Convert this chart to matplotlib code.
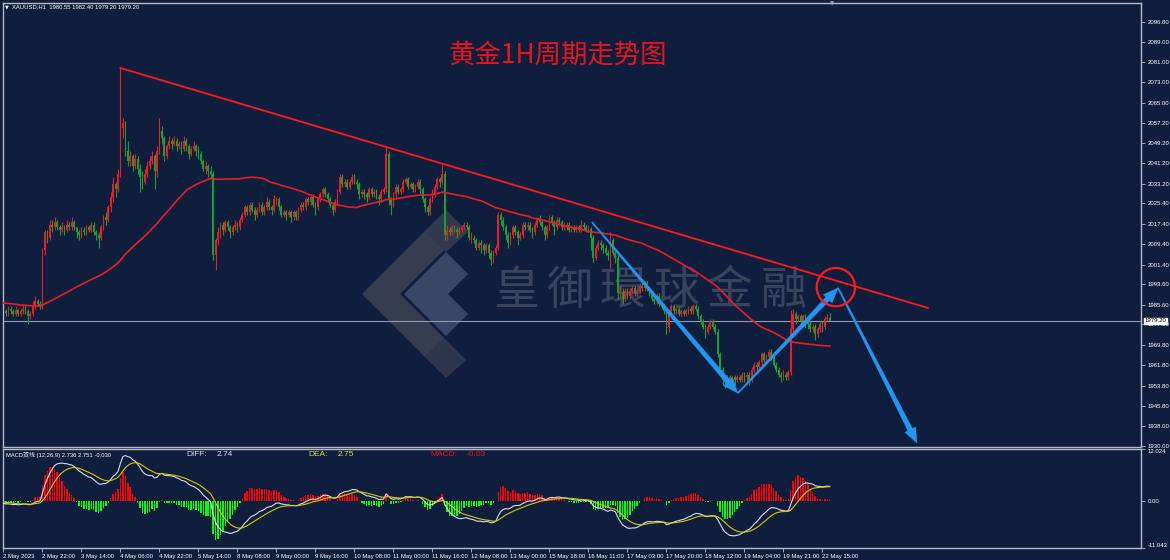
import numpy as np
import pandas as pd
import matplotlib
matplotlib.use('Agg')
import matplotlib.pyplot as plt
from matplotlib.patches import Polygon
import matplotlib.transforms as mtransforms

# ---- data: XAUUSD H1 ----
# closes of the hours before the first visible bar (only used to warm up the MA)
prior_closes = [1990, 1991, 1989, 1988, 1990, 1992, 1991, 1989, 1987, 1988,
                1986, 1985, 1987, 1989, 1988, 1986, 1984, 1983, 1985, 1987,
                1988, 1986, 1985, 1984, 1986, 1988, 1987, 1985, 1984, 1982,
                1981, 1983, 1985, 1986, 1988, 1989, 1987, 1986, 1985, 1987,
                1988, 1986, 1984, 1985, 1987, 1988, 1989, 1987, 1986, 1985,
                1984, 1986, 1987, 1988, 1986, 1985, 1984, 1985, 1984, 1983.5]

closes = [
    1983, 1982.5, 1984, 1983, 1982, 1983.5, 1982, 1983, 1984, 1983, 1981, 1982, 1985, 1987, 1986, 1985,
    2007, 2014, 2012, 2017, 2016, 2018, 2016, 2015, 2016, 2015, 2017, 2016, 2018, 2016, 2014, 2013,
    2015, 2014, 2016, 2015, 2017, 2014, 2013, 2012, 2016, 2020, 2019, 2024, 2028, 2033, 2031, 2037,
    2055, 2057, 2046, 2042, 2044, 2040, 2043, 2039, 2036, 2034, 2037, 2040, 2042, 2044, 2038, 2046,
    2054, 2051, 2044, 2048, 2050, 2049, 2050, 2048, 2049, 2047, 2050, 2048, 2045, 2047, 2048, 2046,
    2045, 2042, 2039, 2040, 2038, 2037, 2005, 2011, 2014, 2017, 2015, 2018, 2016, 2014, 2016, 2017,
    2016, 2019, 2021, 2024, 2022, 2025, 2023, 2021, 2023, 2025, 2022, 2024, 2026, 2024, 2023, 2027,
    2027, 2024, 2021, 2022, 2021, 2022, 2020, 2022, 2020, 2023, 2025, 2024, 2027, 2026, 2028, 2025,
    2024, 2027, 2029, 2031, 2029, 2027, 2025, 2023, 2026, 2030, 2036, 2033, 2034, 2032, 2034, 2036,
    2034, 2033, 2029, 2030, 2029, 2028, 2031, 2029, 2030, 2028, 2027, 2030, 2031, 2045, 2027, 2025,
    2029, 2032, 2030, 2031, 2034, 2035, 2032, 2033, 2031, 2032, 2034, 2031, 2027, 2024, 2022, 2027,
    2029, 2032, 2035, 2034, 2037, 2013, 2015, 2014, 2016, 2015, 2014, 2015, 2016, 2017, 2016, 2012,
    2012, 2011, 2008, 2010, 2009, 2007, 2009, 2006, 2003, 2006, 2008, 2021, 2019, 2016, 2013, 2010,
    2013, 2016, 2014, 2012, 2013, 2017, 2016, 2017, 2015, 2014, 2017, 2019, 2018, 2016, 2013, 2016,
    2020, 2018, 2016, 2019, 2018, 2016, 2016.5, 2017, 2015, 2016, 2015, 2016, 2015, 2017, 2016, 2015,
    2015.5, 2012, 2004, 2008, 2010, 2009, 2008, 2006, 2005, 2011, 2006, 2004, 1990, 1990.5, 1988, 1991,
    1989, 1991, 1992, 1990, 1991, 1993, 1992, 1994, 1992, 1990, 1988, 1987, 1989, 1986, 1985, 1983,
    1977, 1983, 1985, 1983, 1984, 1982, 1983, 1982, 1983, 1984, 1983, 1985, 1984, 1981, 1979, 1977,
    1975, 1977, 1979, 1977, 1975, 1966, 1960, 1956, 1955, 1957, 1955, 1957, 1956, 1957, 1956, 1958,
    1957, 1958, 1956, 1960, 1962, 1961, 1963, 1966, 1964, 1965, 1967, 1965, 1962, 1960, 1958, 1957,
    1958, 1957, 1959, 1976, 1982, 1980, 1981, 1979, 1981, 1979, 1978, 1976, 1977, 1974, 1976, 1978,
    1977, 1980, 1980.55, 1979.2]

highs = [
    1985, 1984, 1985, 1985, 1984, 1985, 1984, 1984, 1986, 1985, 1984, 1983, 1987, 1989, 1988, 1987,
    2008, 2015, 2015, 2019, 2019, 2020, 2019, 2017, 2018, 2017, 2019, 2018, 2020, 2019, 2016, 2015,
    2016, 2016, 2017, 2017, 2018, 2018, 2015, 2014, 2017, 2021, 2022, 2025, 2030, 2036, 2034, 2039,
    2078.7, 2059, 2058, 2050, 2046, 2045, 2045, 2044, 2041, 2038, 2039, 2042, 2044, 2046, 2045, 2048,
    2059, 2056, 2052, 2049, 2052, 2051, 2052, 2051, 2050, 2050, 2052, 2051, 2049, 2048, 2050, 2049,
    2048, 2046, 2043, 2042, 2041, 2040, 2038, 2012, 2016, 2018, 2018, 2019, 2019, 2017, 2017, 2019,
    2018, 2020, 2022, 2025, 2025, 2026, 2026, 2024, 2024, 2026, 2026, 2025, 2028, 2027, 2025, 2028.7,
    2028, 2028, 2025, 2023, 2023, 2023, 2023, 2023, 2023, 2024, 2026, 2026, 2028, 2028, 2029, 2029,
    2026, 2028, 2030, 2032, 2032, 2030, 2028, 2026, 2027, 2031, 2037, 2037, 2035, 2035, 2035, 2037,
    2037, 2035, 2034, 2031, 2031, 2030, 2032, 2032, 2031, 2031, 2029, 2031, 2032, 2047.6, 2046, 2028,
    2030, 2033, 2033, 2032, 2035, 2036, 2036, 2034, 2034, 2033, 2035, 2035, 2032, 2028, 2025, 2028,
    2031, 2033, 2036, 2036, 2040.5, 2038, 2017, 2016, 2017, 2017, 2016, 2016, 2017, 2018, 2018, 2017,
    2014, 2013, 2012, 2011, 2011, 2010, 2010, 2010, 2007, 2007, 2009, 2022, 2022, 2020, 2017, 2014,
    2014, 2017, 2017, 2015, 2014, 2018, 2018, 2018, 2018, 2016, 2018, 2020, 2021, 2019, 2017, 2017,
    2021, 2021, 2019, 2020, 2020, 2019, 2018, 2018, 2018, 2017, 2017, 2017, 2017, 2019, 2018, 2017,
    2017, 2016, 2013, 2009, 2011, 2011, 2010, 2009, 2007, 2014, 2012, 2007, 2005, 1993, 1992, 1992,
    1992, 1992, 1993, 1993, 1992, 1994, 1994, 1995, 1995, 1993, 1991, 1989, 1990, 1990, 1987, 1986,
    1984, 1984, 1986, 1986, 1985, 1985, 1984, 1984, 1984, 1985, 1985, 1986, 1986, 1985, 1982, 1980,
    1978, 1978, 1980, 1980, 1978, 1976, 1967, 1961, 1958, 1958, 1958, 1958, 1958, 1958, 1958, 1959,
    1959, 1959, 1959, 1961, 1963, 1963, 1964, 1967, 1967, 1966, 1968, 1968, 1966, 1963, 1961, 1959,
    1960, 1959, 1960, 1983.5, 1984, 1983, 1982, 1982, 1982, 1982, 1980, 1979, 1978, 1978, 1977, 1979,
    1979, 1981, 1982, 1982.4]

lows = [
    1982, 1981, 1981, 1982, 1981, 1981, 1981, 1981, 1982, 1982, 1978, 1980, 1981, 1984, 1985, 1984,
    1984, 2005, 2010, 2011, 2014, 2015, 2015, 2013, 2014, 2013, 2014, 2015, 2015, 2015, 2012, 2011,
    2012, 2013, 2013, 2014, 2014, 2013, 2011, 2008, 2011, 2015, 2017, 2018, 2022, 2026, 2028, 2030,
    2036, 2051, 2044, 2040, 2040, 2038, 2039, 2037, 2030, 2031, 2033, 2036, 2039, 2041, 2031, 2036,
    2045, 2049, 2042, 2043, 2047, 2047, 2048, 2046, 2047, 2045, 2046, 2046, 2043, 2044, 2046, 2044,
    2043, 2041, 2038, 2037, 2036, 2035, 2003, 1999.2, 2009, 2012, 2013, 2014, 2015, 2012, 2013, 2015,
    2014, 2015, 2018, 2020, 2021, 2021, 2022, 2019, 2020, 2022, 2021, 2021, 2023, 2023, 2021, 2022,
    2025, 2023, 2020, 2020, 2019, 2020, 2018, 2019, 2019, 2019, 2022, 2023, 2023, 2025, 2025, 2024,
    2021, 2023, 2026, 2028, 2028, 2026, 2024, 2021, 2022, 2025, 2029, 2032, 2032, 2031, 2031, 2033,
    2033, 2031, 2027, 2028, 2027, 2026, 2027, 2028, 2028, 2027, 2025, 2026, 2029, 2030, 2025, 2021,
    2024, 2027, 2029, 2029, 2030, 2033, 2031, 2031, 2030, 2030, 2031, 2029, 2026, 2022, 2021, 2021,
    2026, 2028, 2031, 2032, 2033, 2011, 2011, 2013, 2013, 2014, 2012, 2013, 2014, 2015, 2015, 2011,
    2010, 2010, 2007, 2007, 2006, 2005, 2006, 2004, 2001.2, 2002, 2005, 2007, 2017, 2015, 2011, 2008,
    2009, 2012, 2013, 2009, 2011, 2012, 2015, 2015, 2014, 2012, 2013, 2016, 2017, 2015, 2011, 2012,
    2015, 2017, 2013, 2015, 2017, 2015, 2015, 2015, 2014, 2014, 2014, 2014, 2014, 2014, 2015, 2014,
    2014, 2007, 2002.4, 2003, 2007, 2007, 2006, 2005, 2003, 2000, 2005, 2002, 1988, 1988, 1986, 1987,
    1988, 1988, 1990, 1989, 1989, 1990, 1991, 1991, 1991, 1989, 1987, 1986, 1986, 1985, 1984, 1982,
    1974, 1975, 1982, 1982, 1982, 1981, 1981, 1981, 1981, 1982, 1982, 1982, 1983, 1980, 1978, 1976,
    1972.5, 1974, 1976, 1976, 1974, 1965, 1959, 1954, 1953, 1954, 1953, 1954, 1954, 1955, 1955, 1955,
    1955, 1955, 1954, 1955, 1959, 1959, 1960, 1962, 1963, 1963, 1964, 1964, 1961, 1959, 1957, 1955,
    1956, 1956, 1956, 1958, 1975, 1978, 1979, 1977, 1978, 1977, 1976, 1975, 1975, 1971.7, 1973, 1975,
    1975, 1976, 1979, 1979.2]

first_open = 1983.5

price_ticks = [2096.80, 2089.00, 2081.00, 2073.00, 2065.00, 2057.20, 2049.20, 2041.20,
               2033.20, 2025.40, 2017.40, 2009.40, 2001.40, 1993.60, 1985.60, 1977.80,
               1969.80, 1961.80, 1953.80, 1945.80, 1938.00, 1930.00]
time_labels = ['2 May 2023', '2 May 22:00', '3 May 14:00', '4 May 06:00', '4 May 22:00',
               '5 May 14:00', '8 May 08:00', '9 May 00:00', '9 May 16:00', '10 May 08:00',
               '11 May 00:00', '11 May 16:00', '12 May 08:00', '13 May 00:00', '15 May 18:00',
               '16 May 11:00', '17 May 03:00', '17 May 20:00', '18 May 12:00', '19 May 04:00',
               '19 May 21:00', '22 May 15:00']
label_step = 16
ma_period = 60
last_price = 1979.20
macd_scale = (12.024, -11.043)
# indicator read-out shown on the chart
macd_header = 'MACD双线 (12,26,9) 2.736 2.751 -0.030'
diff_txt, dea_txt, macd_txt = '2.74', '2.75', '-0.03'

# analyst drawings (bar index, price)
trend_pts = ([48, 379.3], [2078.7, 1984.3])
arrow_pts = [((241.4, 2018.1), (301.3, 1950.8)),
             ((301.3, 1950.8), (342.4, 1992.2)),
             ((342.4, 1992.2), (374.8, 1931.2))]
circle_pt = (341.5, 1992.5)

# ---- derived series ----
closes = np.array(closes, float)
highs = np.array(highs, float)
lows = np.array(lows, float)
opens = np.concatenate([[first_open], closes[:-1]])
highs = np.maximum(highs, np.maximum(opens, closes))
lows = np.minimum(lows, np.minimum(opens, closes))
n = len(closes)
x = np.arange(n)

allc = pd.Series(list(prior_closes) + list(closes))
ma = allc.rolling(ma_period).mean().values[len(prior_closes):]
ema12 = allc.ewm(span=12, adjust=False).mean()
ema26 = allc.ewm(span=26, adjust=False).mean()
diff = (ema12 - ema26)
dea = diff.ewm(span=9, adjust=False).mean()
hist = (2 * (diff - dea)).values[len(prior_closes):]
diff = diff.values[len(prior_closes):]
dea = dea.values[len(prior_closes):]

# ---- style ----
W, H = 1170, 560
BG = '#101e3e'
FRAME = '#b8bcc8'
UP = '#ec1c24'
DOWN = '#16a034'
RED = '#ff1a1a'
BLUE = '#2196f3'
TXT = 'Liberation Sans'
CJK = ['Noto Sans CJK SC', 'DejaVu Sans']

fig = plt.figure(figsize=(W / 100, H / 100), dpi=100, facecolor=BG)
ax = fig.add_axes([3 / W, 1 - 447 / H, 1138 / W, 444 / H], facecolor=BG)
ax2 = fig.add_axes([3 / W, 1 - 548 / H, 1138 / W, 99 / H], facecolor=BG)

xlim = (-0.2, 466.7)
for a in (ax, ax2):
    a.set_xlim(*xlim)
    for s in a.spines.values():
        s.set_color(FRAME)
        s.set_linewidth(1.0)
ax.set_ylim(1929.61, 2104.27)
ax2.set_ylim(macd_scale[1], macd_scale[0])


def axpos(px, py):
    # pixel position -> main-axes fraction
    return (px - 3) / 1138, (447 - py) / 444


# watermark logo + text (behind candles)
logo = [
    ([(362, 294), (425, 231), (444, 250), (400, 294), (444, 338), (425, 357)], '#5c5c64', 0.50),
    ([(404, 294), (446, 252), (468, 274), (448, 294), (468, 314), (446, 336)], '#7885a6', 0.40),
    ([(425, 231), (446, 210), (468, 232), (446, 252)], '#5c5c64', 0.45),
    ([(425, 357), (444, 338), (466, 360), (446, 378)], '#5c5c64', 0.40),
]
for pts, col, al in logo:
    ax.add_patch(Polygon([axpos(*p) for p in pts], closed=True, transform=ax.transAxes,
                         facecolor=col, edgecolor='none', alpha=al, zorder=0.5))
for k, ch in enumerate('皇御環球金融'):
    px, py = axpos(516 + 53.5 * k, 291)
    ax.text(px, py, ch, transform=ax.transAxes, ha='center', va='center', fontsize=33,
            color='#9a9aa0', alpha=0.30, family=['Noto Sans CJK TC', 'DejaVu Sans'], zorder=0.5)

# candles
cols = np.where(closes >= opens, UP, DOWN)
ax.vlines(x, lows, highs, colors=cols, lw=0.8, zorder=2)
body = np.maximum(np.abs(closes - opens), 0.35)
ax.bar(x, body, bottom=np.minimum(opens, closes), width=0.7, color=cols, lw=0, zorder=2)

ax.plot(x, ma, color=UP, lw=1.2, zorder=3)
ax.plot(trend_pts[0], trend_pts[1], color=RED, lw=1.3, zorder=3)
ax.axhline(last_price, color='#8f99b0', lw=0.8, zorder=1.5)

# tapered arrows, built in pixel space then mapped back to data


def taper_arrow(p0, p1, w0=1.2, w1=5.0, hw=12.0, hl=15.0):
    t = ax.transData
    a0 = np.array(t.transform(p0))
    a1 = np.array(t.transform(p1))
    u = (a1 - a0) / np.hypot(*(a1 - a0))
    nv = np.array([-u[1], u[0]])
    b = a1 - u * hl
    pts = [a0 + nv * w0 / 2, b + nv * w1 / 2, b + nv * hw / 2, a1,
           b - nv * hw / 2, b - nv * w1 / 2, a0 - nv * w0 / 2]
    pts = t.inverted().transform(np.array(pts))
    ax.add_patch(Polygon(pts, closed=True, facecolor=BLUE, edgecolor=BLUE, lw=0.3, zorder=4))


for p0, p1 in arrow_pts:
    taper_arrow(p0, p1)
ax.scatter([circle_pt[0]], [circle_pt[1]], s=760, facecolors='none', edgecolors=RED,
           linewidths=1.6, zorder=5)

# main axis ticks
ax.yaxis.tick_right()
ax.set_yticks(price_ticks)
ax.set_yticklabels([f'{v:.2f}' for v in price_ticks])
ax.tick_params(axis='y', colors=FRAME, length=3, width=0.6, pad=2, labelsize=4.3,
               labelcolor='white')
for lb in ax.get_yticklabels():
    lb.set_family(TXT)
ax.set_xticks([])
trans = mtransforms.blended_transform_factory(ax.transAxes, ax.transData)
ax.text(1.003, last_price, f'{last_price:.2f}', transform=trans, ha='left', va='center',
        fontsize=4.3, family=TXT, color='black', zorder=6, clip_on=False,
        bbox=dict(boxstyle='square,pad=0.15', fc='white', ec='white'))

# MACD panel
hcols = np.where(hist >= 0, '#ff0000', '#00ff00')
ax2.bar(x, hist, width=0.6, color=hcols, lw=0, zorder=2)
ax2.plot(x, diff, color='#d8dbe6', lw=0.8, zorder=3)
ax2.plot(x, dea, color='#d8c800', lw=0.8, zorder=3)
ax2.yaxis.tick_right()
ax2.set_yticks([macd_scale[0], 0, macd_scale[1]])
ax2.set_yticklabels([f'{macd_scale[0]:.3f}', '0.00', f'{macd_scale[1]:.3f}'])
ax2.tick_params(axis='y', colors=FRAME, length=3, width=0.6, pad=2, labelsize=4.3,
                labelcolor='white')
yl = ax2.get_yticklabels()
yl[0].set_va('top')
yl[2].set_va('bottom')
for lb in yl:
    lb.set_family(TXT)
ax2.set_xticks([label_step * k for k in range(len(time_labels))])
ax2.set_xticklabels(time_labels)
ax2.tick_params(axis='x', colors=FRAME, length=3, width=0.6, pad=1.5, labelsize=4.3,
                labelcolor='white')
for lb in ax2.get_xticklabels():
    lb.set_ha('left')
    lb.set_family(TXT)

# texts
fig.text(5 / W, 1 - 7 / H, '▼', fontsize=3.5, color='white', va='center', family='DejaVu Sans')
fig.text(12 / W, 1 - 7 / H, 'XAUUSD,H1  1980.55 1982.40 1979.20 1979.20', fontsize=4.2,
         color='white', va='center', family=TXT)
fig.text(558 / W, 1 - 55 / H, '黄金1H周期走势图', fontsize=19, color='#e8141c',
         ha='center', va='center', family=CJK)
fig.text(6 / W, 1 - 455 / H, macd_header, fontsize=4.2,
         color='white', va='center', family=['Liberation Sans', 'Noto Sans CJK SC'])
fig.text(186 / W, 1 - 455 / H, 'DIFF:', fontsize=6, color='#d8dbe6', va='center', family=TXT)
fig.text(217 / W, 1 - 455 / H, diff_txt, fontsize=6, color='#d8dbe6', va='center', family=TXT)
fig.text(308 / W, 1 - 455 / H, 'DEA:', fontsize=6, color='#d8d84a', va='center', family=TXT)
fig.text(338 / W, 1 - 455 / H, dea_txt, fontsize=6, color='#d8d84a', va='center', family=TXT)
fig.text(430 / W, 1 - 455 / H, 'MACD:', fontsize=6, color='#e8141c', va='center', family=TXT)
fig.text(467 / W, 1 - 455 / H, macd_txt, fontsize=6, color='#e8141c', va='center', family=TXT)
fig.text(832 / W, 1 - 4 / H, '▼', fontsize=4, color='#9aa0b0', ha='center', va='center',
         family='DejaVu Sans')

fig.savefig('out.png', dpi=100, facecolor=BG)
